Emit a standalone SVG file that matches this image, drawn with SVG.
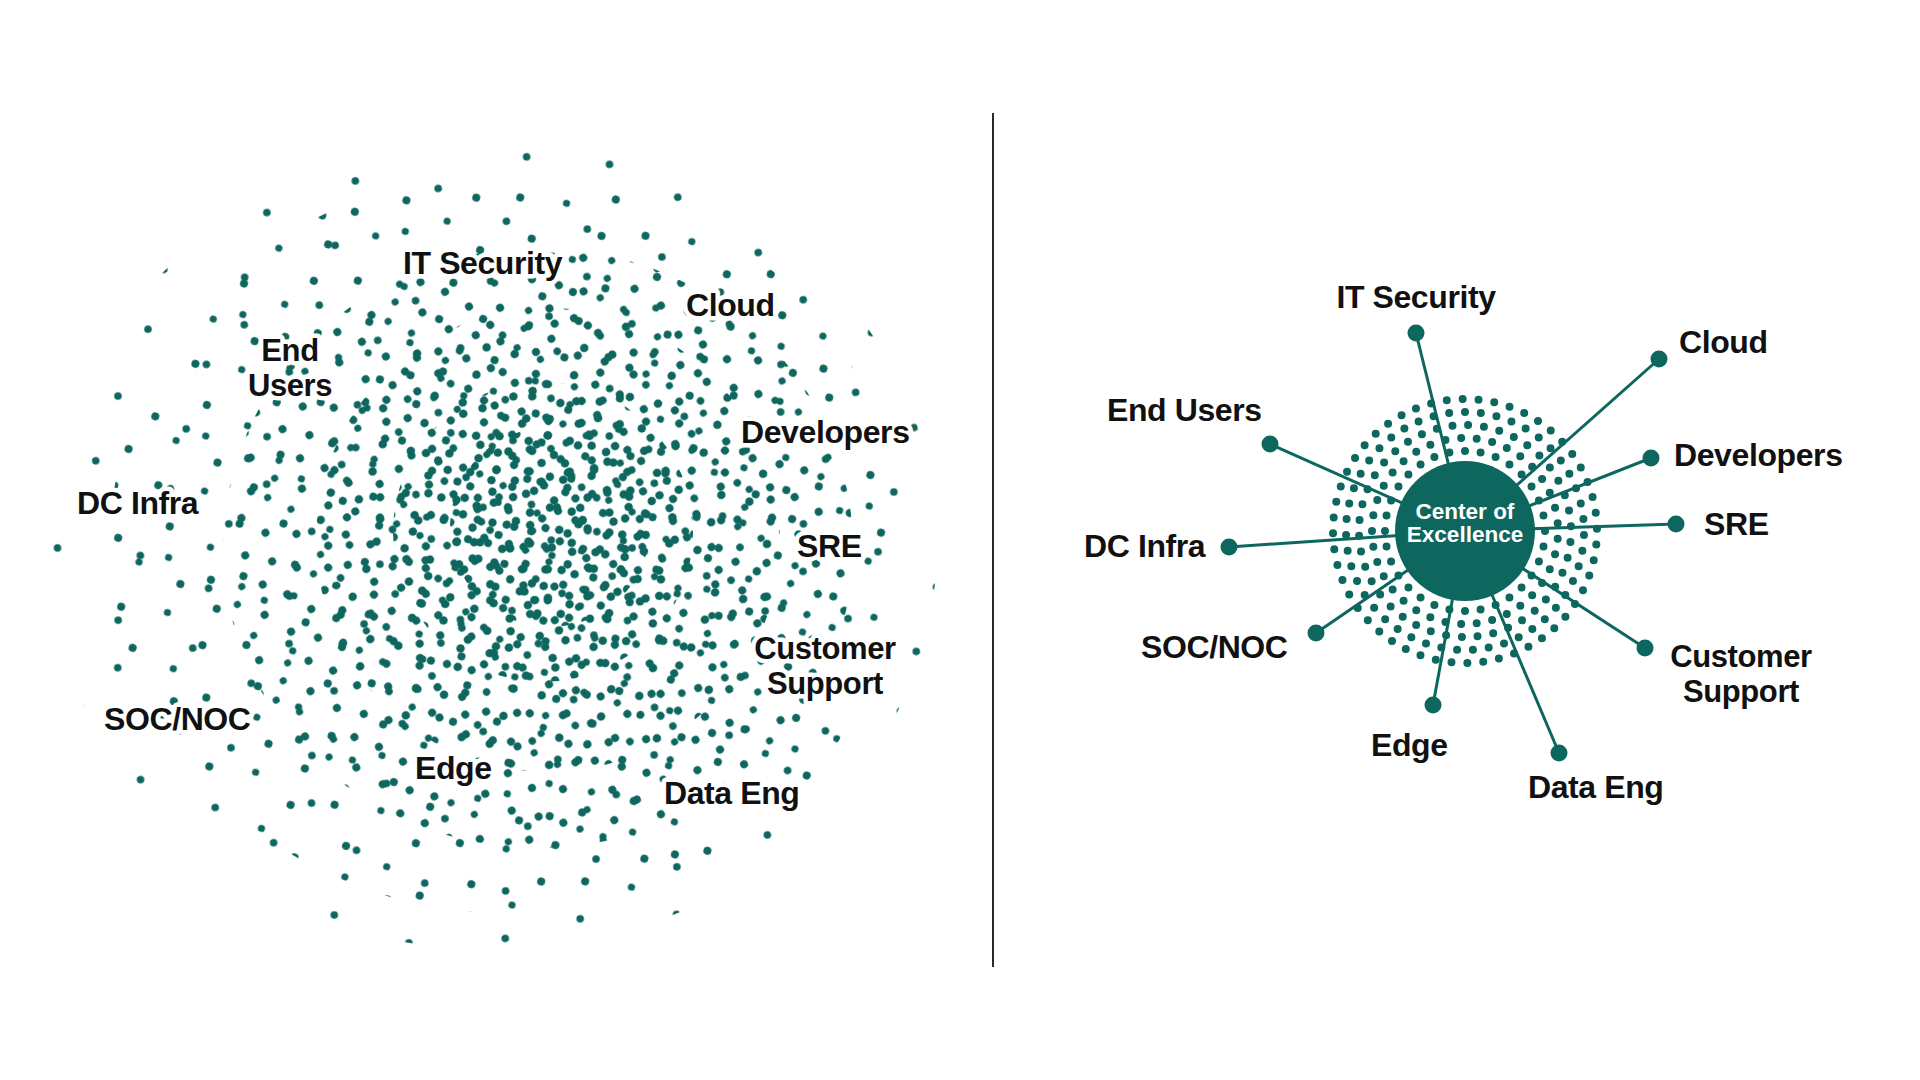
<svg xmlns="http://www.w3.org/2000/svg" width="1920" height="1080" viewBox="0 0 1920 1080">
<style>
.d{fill:#0d675f}
.lb{font-family:"Liberation Sans",Arial,sans-serif;font-weight:700;font-size:32px;fill:#111;letter-spacing:-0.4px}
.two{font-size:31px}
.halo{stroke:#fff;stroke-width:9px;stroke-linejoin:round;paint-order:stroke}
.mid{text-anchor:middle}
.coe{font-family:"Liberation Sans",Arial,sans-serif;font-weight:700;font-size:22.5px;fill:#fff;text-anchor:middle}
.cn{stroke:#0d675f;stroke-width:3;fill:none}
.ep{fill:#0d675f}
</style>
<defs>
<pattern id="pS" width="131" height="127" patternUnits="userSpaceOnUse" patternTransform="translate(11 23) rotate(17)">
<circle class="d" cx="14" cy="18" r="4"/><circle class="d" cx="60" cy="10" r="3.6"/><circle class="d" cx="103" cy="31" r="4"/>
<circle class="d" cx="37" cy="54" r="4"/><circle class="d" cx="82" cy="62" r="3.6"/><circle class="d" cx="122" cy="80" r="4"/>
<circle class="d" cx="18" cy="97" r="3.6"/><circle class="d" cx="64" cy="106" r="4"/><circle class="d" cx="106" cy="119" r="4"/>
<circle class="d" cx="45" cy="84" r="3.6"/><circle class="d" cx="92" cy="93" r="4"/>
</pattern>
<pattern id="pO" width="173" height="161" patternUnits="userSpaceOnUse" patternTransform="translate(5 9) rotate(-8)">
<circle class="d" cx="20" cy="24" r="3.8"/><circle class="d" cx="97" cy="15" r="3.8"/><circle class="d" cx="150" cy="58" r="3.8"/>
<circle class="d" cx="58" cy="77" r="3.8"/><circle class="d" cx="121" cy="119" r="3.8"/><circle class="d" cx="27" cy="138" r="3.8"/>
</pattern>
<pattern id="pM" width="97" height="89" patternUnits="userSpaceOnUse" patternTransform="translate(37 5) rotate(-31)">
<circle class="d" cx="8" cy="11" r="4"/><circle class="d" cx="41" cy="7" r="3.6"/><circle class="d" cx="75" cy="17" r="4"/>
<circle class="d" cx="21" cy="36" r="4"/><circle class="d" cx="55" cy="29" r="3.6"/><circle class="d" cx="89" cy="45" r="4"/>
<circle class="d" cx="12" cy="64" r="4"/><circle class="d" cx="47" cy="53" r="4"/><circle class="d" cx="70" cy="70" r="3.6"/>
<circle class="d" cx="30" cy="82" r="4"/><circle class="d" cx="57" cy="83" r="3.6"/><circle class="d" cx="89" cy="79" r="4"/>
</pattern>
<pattern id="pD" width="67" height="71" patternUnits="userSpaceOnUse" patternTransform="translate(19 41) rotate(47)">
<circle class="d" cx="7" cy="9" r="4.2"/><circle class="d" cx="36" cy="14" r="4"/><circle class="d" cx="58" cy="31" r="3.8"/>
<circle class="d" cx="20" cy="35" r="4.2"/><circle class="d" cx="44" cy="47" r="4"/><circle class="d" cx="9" cy="60" r="3.8"/>
<circle class="d" cx="31" cy="64" r="4.2"/><circle class="d" cx="60" cy="62" r="4"/>
</pattern>
<pattern id="pC" width="47" height="53" patternUnits="userSpaceOnUse" patternTransform="translate(3 17) rotate(71)">
<circle class="d" cx="8" cy="12" r="4.2"/><circle class="d" cx="33" cy="7" r="4.2"/><circle class="d" cx="22" cy="30" r="3.8"/>
<circle class="d" cx="41" cy="38" r="4.2"/><circle class="d" cx="9" cy="45" r="4.2"/>
</pattern>
<pattern id="pC2" width="43" height="41" patternUnits="userSpaceOnUse" patternTransform="translate(7 2) rotate(29)">
<circle class="d" cx="10" cy="8" r="4.2"/><circle class="d" cx="32" cy="15" r="4.2"/><circle class="d" cx="17" cy="29" r="4.2"/>
<circle class="d" cx="38" cy="35" r="4"/>
</pattern>
</defs>
<rect width="1920" height="1080" fill="#fff"/>

<g id="scatter">
<ellipse cx="492" cy="545" rx="445" ry="405" fill="url(#pO)"/>
<ellipse cx="505" cy="543" rx="395" ry="370" fill="url(#pS)"/>
<ellipse cx="538" cy="548" rx="315" ry="300" fill="url(#pM)"/>
<circle cx="548" cy="540" r="232" fill="url(#pD)"/>
<circle cx="543" cy="532" r="150" fill="url(#pC)"/>
<circle cx="550" cy="527" r="100" fill="url(#pC2)"/>
</g>

<g id="left-labels" class="lb halo">
<g id="l-itsec"><text x="403" y="274">IT Security</text></g>
<g id="l-cloud"><text x="686" y="316">Cloud</text></g>
<g id="l-endusers"><text class="mid two" x="290" y="361">End<tspan x="290" dy="35">Users</tspan></text></g>
<g id="l-dev"><text x="741" y="443">Developers</text></g>
<g id="l-dcinfra"><text x="77" y="514">DC Infra</text></g>
<g id="l-sre"><text x="797" y="557">SRE</text></g>
<g id="l-cs"><text class="mid two" x="825" y="659">Customer<tspan x="825" dy="35">Support</tspan></text></g>
<g id="l-soc"><text x="104" y="730">SOC/NOC</text></g>
<g id="l-edge"><text x="415" y="779">Edge</text></g>
<g id="l-data"><text x="664" y="804">Data Eng</text></g>
</g>

<line id="divider" x1="993" y1="113" x2="993" y2="967" stroke="#2a2a2a" stroke-width="2"/>

<g id="ring" fill="none" stroke="#0d675f" stroke-width="8" stroke-linecap="round" stroke-dasharray="0 1">
<circle cx="1465" cy="531" r="80" pathLength="32"/>
<circle cx="1465" cy="531" r="93" pathLength="37" stroke-dashoffset="0.5"/>
<circle cx="1465" cy="531" r="106" pathLength="42" stroke-dashoffset="0.3"/>
<circle cx="1465" cy="531" r="119" pathLength="47" stroke-dashoffset="0.75"/>
<circle cx="1465" cy="531" r="132" pathLength="52" stroke-dashoffset="0.15"/>
</g>

<g id="connectors" class="cn">
<line x1="1465" y1="531" x2="1416" y2="333"/>
<line x1="1465" y1="531" x2="1659" y2="359"/>
<line x1="1465" y1="531" x2="1651" y2="458"/>
<line x1="1465" y1="531" x2="1676" y2="524"/>
<line x1="1465" y1="531" x2="1645" y2="648"/>
<line x1="1465" y1="531" x2="1559" y2="753"/>
<line x1="1465" y1="531" x2="1433" y2="705"/>
<line x1="1465" y1="531" x2="1316" y2="633"/>
<line x1="1465" y1="531" x2="1229" y2="547"/>
<line x1="1465" y1="531" x2="1270" y2="444"/>
</g>

<g id="coe">
<circle cx="1465" cy="531" r="70" fill="#0d675f"/>
<text class="coe" x="1465" y="519">Center of<tspan x="1465" dy="23">Excellence</tspan></text>
</g>

<g id="r-itsec"><circle class="ep" cx="1416" cy="333" r="8.5"/><text class="lb mid" x="1416" y="308">IT Security</text></g>
<g id="r-cloud"><circle class="ep" cx="1659" cy="359" r="8.5"/><text class="lb" x="1679" y="353">Cloud</text></g>
<g id="r-dev"><circle class="ep" cx="1651" cy="458" r="8.5"/><text class="lb" x="1674" y="466">Developers</text></g>
<g id="r-sre"><circle class="ep" cx="1676" cy="524" r="8.5"/><text class="lb" x="1704" y="535">SRE</text></g>
<g id="r-cs"><circle class="ep" cx="1645" cy="648" r="8.5"/><text class="lb mid two" x="1741" y="667">Customer<tspan x="1741" dy="35">Support</tspan></text></g>
<g id="r-data"><circle class="ep" cx="1559" cy="753" r="8.5"/><text class="lb" x="1528" y="798">Data Eng</text></g>
<g id="r-edge"><circle class="ep" cx="1433" cy="705" r="8.5"/><text class="lb" x="1371" y="756">Edge</text></g>
<g id="r-soc"><circle class="ep" cx="1316" cy="633" r="8.5"/><text class="lb" x="1141" y="658">SOC/NOC</text></g>
<g id="r-dcinfra"><circle class="ep" cx="1229" cy="547" r="8.5"/><text class="lb" x="1084" y="557">DC Infra</text></g>
<g id="r-endusers"><circle class="ep" cx="1270" cy="444" r="8.5"/><text class="lb" x="1107" y="421">End Users</text></g>
</svg>
